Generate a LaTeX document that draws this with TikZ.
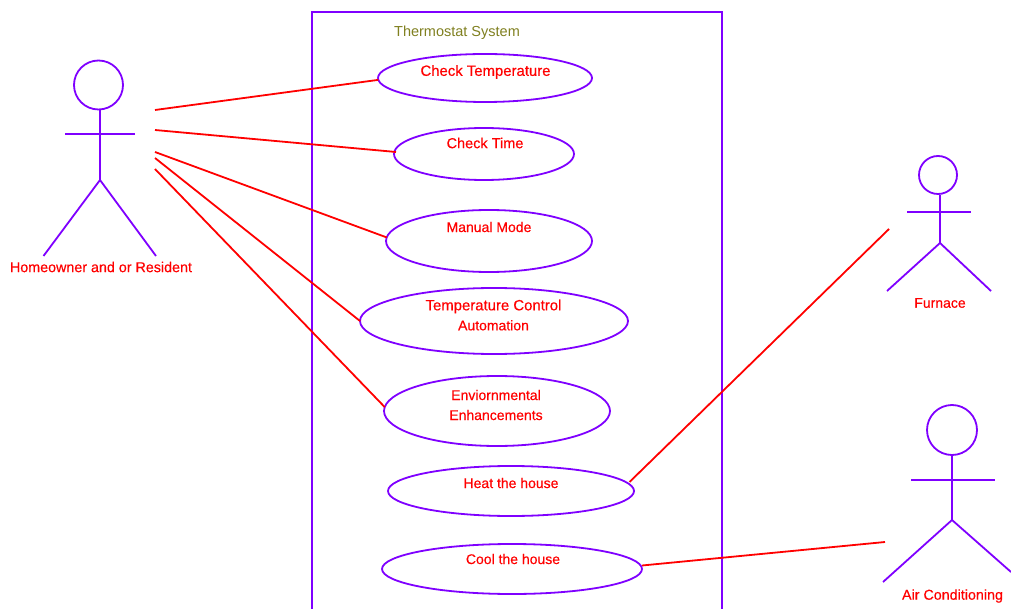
\documentclass[tikz,border=0pt]{standalone}
\usepackage{fontspec}
\setmainfont{Liberation Sans}
\usetikzlibrary{shapes.geometric}
\definecolor{umlpurple}{HTML}{7F00FF}
\definecolor{umlolive}{HTML}{808020}
\tikzset{
  px/.style={x=1pt,y=-1pt},
  uc/.style={ellipse,draw=umlpurple,line width=1.8pt,inner sep=0pt,outer sep=0pt},
  head/.style={circle,draw=umlpurple,line width=1.8pt,inner sep=0pt,outer sep=0pt},
  stick/.style={draw=umlpurple,line width=1.8pt},
  link/.style={draw=red,line width=1.8pt},
  lbl/.style={text=red,font=\addfontfeature{FakeBold=0.4}\fontsize{#1}{20}\selectfont,align=center,inner sep=0pt,anchor=center},
  lbl/.default=14,
  sys/.style={text=umlolive,font=\fontsize{14.5}{15}\selectfont,inner sep=0pt}
}
\begin{document}
\begin{tikzpicture}[px]
\useasboundingbox (0,0) rectangle (1011,609);
\fill[white] (0,0) rectangle (1011,609);
% system boundary
\draw[stick] (312,609) -- (312,12) -- (722,12) -- (722,609);
\node[sys] (title) at (457,33) {Thermostat System};
% use cases
\node[uc,minimum width=214pt,minimum height=48pt] (e1) at (485,78) {};
\node[uc,minimum width=180pt,minimum height=52pt] (e2) at (484,154) {};
\node[uc,minimum width=206pt,minimum height=62pt] (e3) at (489,241) {};
\node[uc,minimum width=268pt,minimum height=66pt] (e4) at (494,321) {};
\node[uc,minimum width=226pt,minimum height=70pt] (e5) at (497,411) {};
\node[uc,minimum width=246pt,minimum height=50pt] (e6) at (511,491) {};
\node[uc,minimum width=260pt,minimum height=50pt] (e7) at (512,569) {};
\node[lbl=14.9] (t1) at (485.5,72) {Check Temperature};
\node[lbl=14.5] (t2) at (485,143) {Check Time};
\node[lbl] (t3) at (489,227) {Manual Mode};
\node[lbl] (t4) at (493.5,315) {{\fontsize{14.9}{20}\selectfont Temperature Control}\\Automation};
\node[lbl] (t5) at (496,405) {Enviornmental\\Enhancements};
\node[lbl] (t6) at (511,483) {Heat the house};
\node[lbl] (t7) at (513,559) {Cool the house};
% homeowner
\node[head,minimum size=49pt] (h1) at (98.5,85) {};
\coordinate (n1) at (100,110);
\coordinate (w1) at (100,180);
\coordinate (al1) at (65,134);
\coordinate (ar1) at (135,134);
\coordinate (ll1) at (43.5,256);
\coordinate (lr1) at (156,256);
\draw[stick] (n1) -- (w1);
\draw[stick] (al1) -- (ar1);
\draw[stick] (ll1) -- (w1) -- (lr1);
\node[lbl=14.3] (a1) at (101,267) {Homeowner and or Resident};
% furnace
\node[head,minimum size=38pt] (h2) at (938,175) {};
\coordinate (n2) at (940,195);
\coordinate (w2) at (940,243);
\coordinate (al2) at (907,212);
\coordinate (ar2) at (971,212);
\coordinate (ll2) at (887,291);
\coordinate (lr2) at (991,291);
\draw[stick] (n2) -- (w2);
\draw[stick] (al2) -- (ar2);
\draw[stick] (ll2) -- (w2) -- (lr2);
\node[lbl] (a2) at (940,303) {Furnace};
% air conditioning
\node[head,minimum size=50pt] (h3) at (952,430) {};
\coordinate (w3) at (952,520);
\coordinate (al3) at (911,480);
\coordinate (ar3) at (995,480);
\coordinate (ll3) at (883,582);
\coordinate (lr3) at (1011,572);
\draw[stick] (h3.south) -- (w3);
\draw[stick] (al3) -- (ar3);
\draw[stick] (ll3) -- (w3) -- (lr3);
\node[lbl=14.3] (a3) at (952.5,596) {Air Conditioning};
% associations
\coordinate (s1) at (155,110);
\coordinate (s2) at (155,130);
\coordinate (s3) at (155,152);
\coordinate (s4) at (155,158);
\coordinate (s5) at (155,169);
\coordinate (s6) at (889,229);
\coordinate (s7) at (885,542);
\draw[link] (s1) -- (e1.181);
\draw[link] (s2) -- ([shift={(2,-2)}]e2.west);
\draw[link] (s3) -- (e3.178);
\draw[link] (s4) -- (e4.180);
\draw[link] (s5) -- (e5.178);
\draw[link] (s6) -- ([shift={(-4.5,-9)}]e6.east);
\draw[link] (s7) -- ([shift={(0,-3.5)}]e7.east);
\end{tikzpicture}
\end{document}
